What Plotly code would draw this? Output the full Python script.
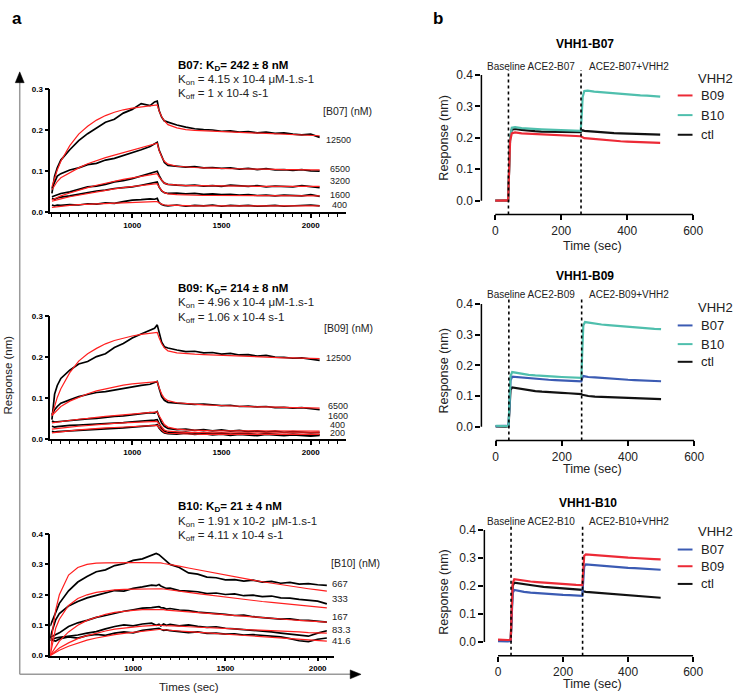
import plotly.graph_objects as go

W, H = 740, 699
FONT = "Liberation Sans, Arial, Helvetica, sans-serif"


def px(x):
    return x / W


def py(y):
    return 1 - y / H


# ---------------- Panel a data (BLI kinetics) ----------------
T_A = [550, 565, 580, 600, 650, 700, 750, 800, 850, 900, 950, 1000, 1050, 1100, 1125, 1140,
       1150, 1165, 1180, 1200, 1250, 1300, 1350, 1400, 1450, 1500, 1550, 1600, 1650, 1700,
       1750, 1800, 1850, 1900, 1950, 2000, 2050]

B07_CONC = ["12500", "6500", "3200", "1600", "400"]
b07_12500 = [0.046, 0.088, 0.108, 0.127, 0.152, 0.174, 0.191, 0.204, 0.219, 0.226, 0.241, 0.25, 0.264, 0.259, 0.268, 0.27,
             0.248, 0.231, 0.222, 0.219, 0.212, 0.207, 0.203, 0.201, 0.2, 0.197, 0.198, 0.195, 0.196, 0.193, 0.195, 0.192,
             0.193, 0.19, 0.188, 0.19, 0.182]
b07_12500_fit = [0.062, 0.084, 0.103, 0.124, 0.162, 0.19, 0.209, 0.224, 0.235, 0.243, 0.249, 0.253, 0.256, 0.259, 0.26, 0.261,
                 0.247, 0.232, 0.222, 0.213, 0.205, 0.201, 0.199, 0.198, 0.197, 0.196, 0.195, 0.194, 0.193, 0.192, 0.192,
                 0.191, 0.19, 0.189, 0.188, 0.187, 0.186]
b07_6500 = [0.058, 0.075, 0.088, 0.094, 0.103, 0.108, 0.116, 0.119, 0.127, 0.131, 0.138, 0.144, 0.152, 0.16, 0.166, 0.17,
            0.152, 0.136, 0.121, 0.114, 0.112, 0.11, 0.111, 0.108, 0.109, 0.107, 0.108, 0.105, 0.107, 0.104, 0.106, 0.103,
            0.104, 0.102, 0.104, 0.101, 0.1]
b07_6500_fit = [0.055, 0.066, 0.075, 0.084, 0.097, 0.108, 0.118, 0.126, 0.133, 0.139, 0.145, 0.151, 0.157, 0.163, 0.166, 0.168,
                0.151, 0.135, 0.124, 0.117, 0.112, 0.11, 0.109, 0.108, 0.107, 0.107, 0.106, 0.106, 0.105, 0.105, 0.105,
                0.104, 0.104, 0.104, 0.103, 0.103, 0.103]
b07_3200 = [0.038, 0.04, 0.043, 0.046, 0.05, 0.056, 0.062, 0.064, 0.068, 0.074, 0.077, 0.082, 0.088, 0.094, 0.097, 0.1,
            0.09, 0.078, 0.071, 0.068, 0.066, 0.065, 0.066, 0.064, 0.065, 0.063, 0.066, 0.064, 0.063, 0.065, 0.062, 0.064,
            0.063, 0.062, 0.065, 0.063, 0.06]
b07_3200_fit = [0.03, 0.033, 0.036, 0.04, 0.047, 0.054, 0.06, 0.066, 0.071, 0.076, 0.08, 0.084, 0.088, 0.091, 0.093, 0.094,
                0.086, 0.077, 0.071, 0.068, 0.066, 0.065, 0.065, 0.065, 0.064, 0.064, 0.064, 0.064, 0.064, 0.063, 0.063,
                0.063, 0.063, 0.063, 0.063, 0.063, 0.063]
b07_1600 = [0.034, 0.032, 0.035, 0.037, 0.04, 0.044, 0.048, 0.052, 0.054, 0.058, 0.06, 0.062, 0.066, 0.07, 0.072, 0.074,
            0.062, 0.052, 0.048, 0.046, 0.047, 0.045, 0.046, 0.044, 0.045, 0.043, 0.044, 0.042, 0.043, 0.041, 0.042, 0.04,
            0.042, 0.041, 0.04, 0.043, 0.039]
b07_1600_fit = [0.027, 0.029, 0.031, 0.033, 0.038, 0.042, 0.046, 0.05, 0.054, 0.057, 0.06, 0.063, 0.066, 0.068, 0.069, 0.07,
                0.062, 0.053, 0.048, 0.045, 0.043, 0.042, 0.042, 0.041, 0.041, 0.041, 0.041, 0.04, 0.04, 0.04, 0.04, 0.04,
                0.04, 0.04, 0.04, 0.04, 0.04]
b07_400 = [0.018, 0.016, 0.018, 0.017, 0.019, 0.018, 0.021, 0.02, 0.023, 0.022, 0.026, 0.03, 0.031, 0.033, 0.032, 0.034,
           0.024, 0.019, 0.017, 0.016, 0.018, 0.015, 0.017, 0.016, 0.018, 0.015, 0.017, 0.016, 0.017, 0.015, 0.016, 0.017,
           0.015, 0.016, 0.017, 0.018, 0.016]
b07_400_fit = [0.012, 0.013, 0.014, 0.015, 0.017, 0.019, 0.02, 0.021, 0.022, 0.023, 0.024, 0.025, 0.026, 0.026, 0.026, 0.026,
               0.023, 0.02, 0.018, 0.017, 0.017, 0.016, 0.016, 0.016, 0.016, 0.016, 0.016, 0.016, 0.016, 0.016, 0.016,
               0.016, 0.016, 0.016, 0.016, 0.016, 0.016]

B09_CONC = ["12500", "6500", "1600", "400", "200"]
b09_12500 = [0.048, 0.11, 0.131, 0.148, 0.168, 0.183, 0.189, 0.201, 0.208, 0.223, 0.233, 0.246, 0.256, 0.265, 0.27, 0.278,
             0.258, 0.236, 0.225, 0.222, 0.217, 0.213, 0.214, 0.21, 0.211, 0.207, 0.209, 0.205, 0.206, 0.202, 0.204, 0.2,
             0.199, 0.197, 0.198, 0.195, 0.192]
b09_12500_fit = [0.058, 0.082, 0.102, 0.123, 0.162, 0.19, 0.208, 0.221, 0.232, 0.24, 0.246, 0.251, 0.255, 0.258, 0.259, 0.26,
                 0.247, 0.232, 0.222, 0.215, 0.21, 0.208, 0.207, 0.206, 0.205, 0.204, 0.203, 0.202, 0.201, 0.2, 0.2,
                 0.199, 0.198, 0.198, 0.197, 0.197, 0.196]
b09_6500 = [0.06, 0.072, 0.08, 0.088, 0.096, 0.104, 0.109, 0.114, 0.116, 0.12, 0.124, 0.128, 0.131, 0.134, 0.138, 0.141,
            0.125, 0.104, 0.095, 0.09, 0.088, 0.087, 0.085, 0.086, 0.084, 0.082, 0.083, 0.08, 0.081, 0.079, 0.08, 0.077,
            0.078, 0.076, 0.077, 0.074, 0.072]
b09_6500_fit = [0.058, 0.065, 0.072, 0.08, 0.093, 0.103, 0.111, 0.118, 0.123, 0.128, 0.132, 0.135, 0.137, 0.139, 0.139, 0.14,
                0.126, 0.11, 0.1, 0.094, 0.089, 0.087, 0.085, 0.084, 0.083, 0.082, 0.081, 0.08, 0.08, 0.079, 0.079,
                0.078, 0.078, 0.077, 0.077, 0.077, 0.076]
b09_1600 = [0.045, 0.042, 0.043, 0.044, 0.046, 0.048, 0.05, 0.051, 0.054, 0.056, 0.057, 0.06, 0.062, 0.065, 0.064, 0.068,
            0.055, 0.04, 0.032, 0.027, 0.024, 0.025, 0.022, 0.024, 0.021, 0.023, 0.02, 0.022, 0.019, 0.021, 0.018, 0.02,
            0.017, 0.019, 0.018, 0.016, 0.017]
b09_1600_fit = [0.04, 0.041, 0.042, 0.043, 0.046, 0.049, 0.051, 0.054, 0.056, 0.058, 0.06, 0.062, 0.064, 0.066, 0.067, 0.067,
                0.058, 0.045, 0.036, 0.03, 0.025, 0.023, 0.022, 0.022, 0.021, 0.021, 0.021, 0.021, 0.021, 0.021, 0.02,
                0.02, 0.02, 0.02, 0.02, 0.02, 0.02]
b09_400 = [0.032, 0.03, 0.031, 0.032, 0.034, 0.035, 0.036, 0.038, 0.039, 0.04, 0.041, 0.043, 0.044, 0.046, 0.047, 0.048,
           0.038, 0.026, 0.02, 0.017, 0.016, 0.018, 0.015, 0.017, 0.014, 0.016, 0.013, 0.015, 0.014, 0.012, 0.014, 0.013,
           0.011, 0.013, 0.012, 0.01, 0.012]
b09_400_fit = [0.025, 0.026, 0.027, 0.028, 0.03, 0.032, 0.034, 0.036, 0.037, 0.039, 0.04, 0.041, 0.042, 0.043, 0.044, 0.044,
               0.038, 0.029, 0.023, 0.02, 0.018, 0.017, 0.017, 0.016, 0.016, 0.016, 0.016, 0.016, 0.016, 0.016, 0.016,
               0.016, 0.016, 0.016, 0.016, 0.016, 0.016]
b09_200 = [0.02, 0.018, 0.019, 0.02, 0.021, 0.022, 0.023, 0.025, 0.026, 0.027, 0.028, 0.03, 0.031, 0.033, 0.034, 0.036,
           0.028, 0.02, 0.016, 0.014, 0.013, 0.015, 0.012, 0.014, 0.011, 0.013, 0.01, 0.012, 0.011, 0.009, 0.012, 0.01,
           0.009, 0.011, 0.01, 0.008, 0.01]
b09_200_fit = [0.016, 0.017, 0.018, 0.019, 0.021, 0.023, 0.025, 0.026, 0.028, 0.029, 0.03, 0.031, 0.032, 0.033, 0.033, 0.034,
               0.029, 0.022, 0.017, 0.015, 0.014, 0.013, 0.013, 0.012, 0.012, 0.012, 0.012, 0.012, 0.012, 0.012, 0.012,
               0.012, 0.012, 0.012, 0.012, 0.012, 0.012]

B10_CONC = ["667", "333", "167", "83.3", "41.6"]
b10_667 = [0.097, 0.12, 0.14, 0.172, 0.213, 0.242, 0.26, 0.276, 0.282, 0.296, 0.302, 0.313, 0.318, 0.33, 0.336, 0.332,
           0.326, 0.317, 0.311, 0.3, 0.29, 0.272, 0.268, 0.258, 0.256, 0.249, 0.25, 0.245, 0.248, 0.242, 0.244, 0.238,
           0.241, 0.235, 0.237, 0.233, 0.231]
b10_667_fit = [0.0, 0.09, 0.15, 0.2, 0.265, 0.29, 0.3, 0.304, 0.305, 0.306, 0.306, 0.306, 0.306, 0.306, 0.306, 0.306,
               0.305, 0.303, 0.301, 0.299, 0.294, 0.288, 0.282, 0.276, 0.27, 0.264, 0.258, 0.253, 0.248, 0.243, 0.238,
               0.233, 0.229, 0.224, 0.22, 0.216, 0.212]
b10_333 = [0.06, 0.09, 0.118, 0.138, 0.163, 0.178, 0.19, 0.198, 0.207, 0.214, 0.212, 0.221, 0.226, 0.232, 0.23, 0.234,
           0.229, 0.226, 0.221, 0.222, 0.214, 0.212, 0.21, 0.204, 0.206, 0.201, 0.203, 0.197, 0.199, 0.194, 0.196, 0.19,
           0.189, 0.185, 0.183, 0.179, 0.17]
b10_333_fit = [0.0, 0.05, 0.09, 0.12, 0.165, 0.188, 0.2, 0.208, 0.213, 0.216, 0.218, 0.219, 0.22, 0.221, 0.221, 0.221,
               0.22, 0.219, 0.218, 0.216, 0.212, 0.208, 0.204, 0.2, 0.196, 0.192, 0.188, 0.185, 0.181, 0.178, 0.175,
               0.172, 0.169, 0.166, 0.163, 0.16, 0.157]
b10_167 = [0.06, 0.065, 0.07, 0.075, 0.096, 0.108, 0.116, 0.126, 0.132, 0.14, 0.146, 0.151, 0.156, 0.158, 0.16, 0.161,
           0.158, 0.157, 0.153, 0.155, 0.15, 0.148, 0.143, 0.141, 0.138, 0.136, 0.132, 0.133, 0.128, 0.126, 0.124, 0.12,
           0.121, 0.117, 0.116, 0.112, 0.11]
b10_167_fit = [0.0, 0.015, 0.03, 0.048, 0.078, 0.1, 0.116, 0.127, 0.136, 0.142, 0.146, 0.149, 0.151, 0.152, 0.152, 0.152,
               0.152, 0.151, 0.15, 0.149, 0.147, 0.144, 0.141, 0.138, 0.136, 0.133, 0.131, 0.128, 0.126, 0.124, 0.122,
               0.12, 0.118, 0.116, 0.114, 0.112, 0.11]
b10_83 = [0.05, 0.055, 0.058, 0.06, 0.063, 0.068, 0.074, 0.079, 0.088, 0.096, 0.101, 0.098, 0.104, 0.107, 0.1, 0.103,
          0.098, 0.104, 0.1, 0.103, 0.098, 0.101, 0.096, 0.093, 0.095, 0.09, 0.088, 0.086, 0.084, 0.08, 0.078, 0.074,
          0.071, 0.067, 0.064, 0.074, 0.082]
b10_83_fit = [0.0, 0.008, 0.016, 0.025, 0.042, 0.056, 0.066, 0.074, 0.081, 0.087, 0.091, 0.094, 0.097, 0.099, 0.1, 0.1,
              0.1, 0.099, 0.099, 0.098, 0.097, 0.095, 0.094, 0.092, 0.091, 0.089, 0.088, 0.086, 0.085, 0.083, 0.082,
              0.08, 0.079, 0.078, 0.076, 0.075, 0.074]
b10_41 = [0.06, 0.05, 0.048, 0.055, 0.062, 0.058, 0.066, 0.07, 0.067, 0.074, 0.078, 0.075, 0.083, 0.086, 0.088, 0.09,
          0.087, 0.083, 0.085, 0.082, 0.079, 0.076, 0.078, 0.073, 0.074, 0.071, 0.072, 0.068, 0.069, 0.066, 0.064, 0.062,
          0.056, 0.049, 0.046, 0.054, 0.058]
b10_41_fit = [0.0, 0.006, 0.012, 0.018, 0.031, 0.042, 0.051, 0.058, 0.064, 0.069, 0.073, 0.077, 0.08, 0.083, 0.085, 0.086,
              0.086, 0.085, 0.084, 0.083, 0.081, 0.079, 0.077, 0.075, 0.073, 0.071, 0.069, 0.067, 0.065, 0.063, 0.061,
              0.059, 0.057, 0.055, 0.053, 0.05, 0.048]

# ---------------- Panel b data (competition) ----------------
T_B = [0, 10, 20, 30, 39, 42, 45, 50, 60, 80, 100, 120, 140, 160, 180, 200, 220, 240, 259, 262, 265, 270, 280, 300,
       320, 340, 360, 380, 400, 420, 440, 460, 480, 500]

# VHH1-B07
p1_B09 = [0.0, 0.001, 0.0, 0.001, 0.0, 0.1, 0.19, 0.214, 0.217, 0.214, 0.213, 0.212, 0.211, 0.211, 0.209, 0.209, 0.208,
          0.207, 0.205, 0.203, 0.201, 0.199, 0.198, 0.196, 0.193, 0.192, 0.19, 0.189, 0.188, 0.187, 0.187, 0.185, 0.185, 0.184]
p1_B10 = [0.0, 0.0, 0.0, 0.0, 0.0, 0.1, 0.2, 0.232, 0.234, 0.231, 0.229, 0.228, 0.227, 0.226, 0.225, 0.225, 0.224, 0.223,
          0.222, 0.27, 0.33, 0.349, 0.35, 0.347, 0.345, 0.343, 0.341, 0.339, 0.338, 0.337, 0.335, 0.334, 0.333, 0.331]
p1_ctl = [0.0, 0.0, 0.0, 0.0, 0.0, 0.1, 0.2, 0.226, 0.228, 0.225, 0.222, 0.221, 0.22, 0.22, 0.219, 0.219, 0.218, 0.218,
          0.218, 0.222, 0.224, 0.222, 0.221, 0.219, 0.217, 0.216, 0.215, 0.214, 0.213, 0.212, 0.212, 0.211, 0.21, 0.21]
# VHH1-B09
p2_B07 = [0.002, 0.003, 0.002, 0.003, 0.002, 0.09, 0.15, 0.163, 0.162, 0.159, 0.157, 0.155, 0.154, 0.153, 0.152, 0.151,
          0.15, 0.149, 0.148, 0.16, 0.165, 0.164, 0.162, 0.161, 0.159, 0.157, 0.156, 0.154, 0.153, 0.152, 0.151, 0.15, 0.149, 0.148]
p2_B10 = [0.003, 0.002, 0.003, 0.002, 0.003, 0.1, 0.165, 0.178, 0.176, 0.172, 0.169, 0.167, 0.165, 0.164, 0.163, 0.162,
          0.161, 0.16, 0.159, 0.25, 0.33, 0.341, 0.339, 0.336, 0.333, 0.331, 0.329, 0.327, 0.325, 0.324, 0.322, 0.321, 0.319, 0.318]
p2_ctl = [0.001, 0.0, 0.001, 0.0, 0.001, 0.08, 0.12, 0.128, 0.126, 0.122, 0.118, 0.116, 0.114, 0.112, 0.111, 0.11, 0.109,
          0.108, 0.106, 0.104, 0.103, 0.102, 0.1, 0.098, 0.097, 0.096, 0.095, 0.094, 0.094, 0.093, 0.092, 0.091, 0.09, 0.09]
# VHH1-B10
p3_B07 = [0.003, 0.002, 0.003, 0.002, 0.003, 0.12, 0.175, 0.186, 0.183, 0.179, 0.176, 0.174, 0.172, 0.171, 0.169, 0.168,
          0.167, 0.166, 0.165, 0.22, 0.27, 0.277, 0.276, 0.273, 0.271, 0.269, 0.268, 0.266, 0.265, 0.264, 0.262, 0.261, 0.259, 0.258]
p3_B09 = [0.008, 0.007, 0.008, 0.007, 0.008, 0.14, 0.21, 0.224, 0.222, 0.219, 0.216, 0.214, 0.212, 0.21, 0.208, 0.207,
          0.206, 0.204, 0.203, 0.26, 0.308, 0.313, 0.312, 0.309, 0.307, 0.305, 0.304, 0.302, 0.301, 0.3, 0.298, 0.297, 0.296, 0.295]
p3_ctl = [0.005, 0.006, 0.005, 0.006, 0.005, 0.13, 0.2, 0.212, 0.21, 0.206, 0.203, 0.2, 0.197, 0.195, 0.193, 0.191, 0.189,
          0.187, 0.186, 0.181, 0.18, 0.179, 0.178, 0.176, 0.174, 0.172, 0.17, 0.168, 0.167, 0.165, 0.163, 0.162, 0.16, 0.158]

STEP_TIMES = [40, 260]

RED = "#ec2a36"
TEAL = "#4fbfad"
BLUE = "#3b5bb3"
BLACK = "#111111"

fig = go.Figure()

# ---------- panel a traces ----------
panel_a = [
    ("", [b07_12500, b07_6500, b07_3200, b07_1600, b07_400],
     [b07_12500_fit, b07_6500_fit, b07_3200_fit, b07_1600_fit, b07_400_fit]),
    ("2", [b09_12500, b09_6500, b09_1600, b09_400, b09_200],
     [b09_12500_fit, b09_6500_fit, b09_1600_fit, b09_400_fit, b09_200_fit]),
    ("3", [b10_667, b10_333, b10_167, b10_83, b10_41],
     [b10_667_fit, b10_333_fit, b10_167_fit, b10_83_fit, b10_41_fit]),
]
for suf, obs_list, fit_list in panel_a:
    for obs in obs_list:
        fig.add_trace(go.Scatter(x=T_A, y=obs, mode="lines", line=dict(color="black", width=1.7),
                                 xaxis="x" + suf, yaxis="y" + suf, showlegend=False, hoverinfo="skip"))
    for fit in fit_list:
        fig.add_trace(go.Scatter(x=T_A, y=fit, mode="lines", line=dict(color="#ff1f1f", width=1.2),
                                 xaxis="x" + suf, yaxis="y" + suf, showlegend=False, hoverinfo="skip"))

# ---------- panel b traces ----------
panel_b = [
    ("4", [("ctl", p1_ctl, BLACK), ("B10", p1_B10, TEAL), ("B09", p1_B09, RED)]),
    ("5", [("ctl", p2_ctl, BLACK), ("B07", p2_B07, BLUE), ("B10", p2_B10, TEAL)]),
    ("6", [("ctl", p3_ctl, BLACK), ("B07", p3_B07, BLUE), ("B09", p3_B09, RED)]),
]
for suf, series in panel_b:
    for name, vals, col in series:
        fig.add_trace(go.Scatter(x=T_B, y=vals, mode="lines", name=name, line=dict(color=col, width=2.2),
                                 xaxis="x" + suf, yaxis="y" + suf, showlegend=False, hoverinfo="skip"))

layout = dict(width=W, height=H, margin=dict(l=0, r=0, t=0, b=0), paper_bgcolor="white", plot_bgcolor="white",
              font=dict(family=FONT, color="black"), showlegend=False)

a_tickfont = dict(family=FONT, size=8, weight="bold", color="black")


def a_axes(suf, xdom, ydom, xr, yr):
    xa = dict(domain=xdom, range=xr, showline=True, linecolor="black", linewidth=1.5, ticks="outside", ticklen=4,
              tickwidth=1.5, tickcolor="black", tick0=0, dtick=500, showgrid=False, zeroline=False,
              minor=dict(dtick=50, ticks="outside", ticklen=2.5, tickwidth=1, tickcolor="black", showgrid=False),
              tickfont=a_tickfont, anchor="y" + suf)
    ya = dict(domain=ydom, range=yr, showline=True, linecolor="black", linewidth=1.5, ticks="outside", ticklen=4,
              tickwidth=1.5, tickcolor="black", dtick=0.1, tick0=0, tickformat=".1f", showgrid=False, zeroline=False,
              tickfont=a_tickfont, anchor="x" + suf)
    return xa, ya


for suf, xdom, ydom, xr, yr in [
    ("", [px(51), px(351)], [py(209), py(83)], [541, 2199], [0, 0.3005]),
    ("2", [px(51), px(351)], [py(440), py(314)], [541, 2199], [0, 0.3005]),
    ("3", [px(51), px(339)], [py(660), py(536)], [551, 2091], [0, 0.4005]),
]:
    xa, ya = a_axes(suf, xdom, ydom, xr, yr)
    layout["xaxis" + suf] = xa
    layout["yaxis" + suf] = ya

b_tickfont = dict(family=FONT, size=12, color="#222222")


def b_axes(suf, xdom, ydom, xr, yr):
    xa = dict(domain=xdom, range=xr, showline=False, ticks="outside", ticklen=5, tickwidth=1.5, tickcolor="black",
              tickvals=[0, 200, 400, 600], showgrid=False, zeroline=False, tickfont=b_tickfont, anchor="y" + suf)
    ya = dict(domain=ydom, range=yr, showline=False, ticks="outside", ticklen=5, tickwidth=1.5, tickcolor="black",
              tickvals=[0, 0.1, 0.2, 0.3, 0.4], tickformat=".1f", showgrid=False, zeroline=False,
              tickfont=b_tickfont, anchor="x" + suf)
    return xa, ya


b_specs = [
    ("4", [px(488), px(703)], [py(211), py(69)], [-42, 601], [-0.0437, 0.4005]),
    ("5", [px(488), px(704)], [py(441), py(302)], [-43, 601], [-0.0448, 0.4005]),
    ("6", [px(491), px(703)], [py(660), py(532)], [-42, 601], [-0.049, 0.4005]),
]
for suf, xdom, ydom, xr, yr in b_specs:
    xa, ya = b_axes(suf, xdom, ydom, xr, yr)
    layout["xaxis" + suf] = xa
    layout["yaxis" + suf] = ya

shapes = []
ann = []

# detached axis lines + dotted step lines for panel b
for suf, _, _, _, _ in b_specs:
    shapes.append(dict(type="line", xref="x%s domain" % suf, x0=0, x1=0, yref="y" + suf, y0=0, y1=0.4,
                       line=dict(color="black", width=1.5)))
    shapes.append(dict(type="line", xref="x" + suf, x0=0, x1=600, yref="y%s domain" % suf, y0=0, y1=0,
                       line=dict(color="black", width=1.5)))
    for t in STEP_TIMES:
        shapes.append(dict(type="line", xref="x" + suf, x0=t, x1=t, yref="y%s domain" % suf, y0=0, y1=1.035,
                           line=dict(color="black", width=1.6, dash="dot")))

# big arrows panel a
shapes.append(dict(type="line", xref="paper", yref="paper", x0=px(20), x1=px(20), y0=py(679), y1=py(76),
                   line=dict(color="#9a9a9a", width=1.5)))
shapes.append(dict(type="line", xref="paper", yref="paper", x0=px(20), x1=px(357), y0=py(679), y1=py(679),
                   line=dict(color="#9a9a9a", width=1.5)))
shapes.append(dict(type="path", xref="paper", yref="paper",
                   path="M %f %f L %f %f L %f %f Z" % (px(15.5), py(77), px(24.5), py(77), px(20), py(66)),
                   fillcolor="black", line=dict(color="black", width=0.5)))
shapes.append(dict(type="path", xref="paper", yref="paper",
                   path="M %f %f L %f %f L %f %f Z" % (px(355), py(674.5), px(355), py(683.5), px(366), py(679)),
                   fillcolor="black", line=dict(color="black", width=0.5)))


def text(x, y, s, size=11, color="black", xanchor="left", bold=False, angle=0):
    ann.append(dict(xref="paper", yref="paper", x=px(x), y=py(y), text=s, showarrow=False, xanchor=xanchor,
                    yanchor="middle", textangle=angle,
                    font=dict(family=FONT, size=size, color=color, weight="bold" if bold else "normal")))


# panel labels
text(10, 12, "a", size=17, bold=True)
text(437, 12, "b", size=17, bold=True)

# panel a texts
text(8, 374, "Response (nm)", size=11.5, xanchor="center", angle=-90, color="#222")
text(192, 692, "Times (sec)", size=11.5, xanchor="center", color="#222")

kin_texts = [
    (60, "B07: K<sub>D</sub>= 242 ± 8 nM", "K<sub>on</sub> = 4.15 x 10-4 μM-1.s-1", "K<sub>off</sub> = 1 x 10-4 s-1"),
    (287, "B09: K<sub>D</sub>= 214 ± 8 nM", "K<sub>on</sub> = 4.96 x 10-4 μM-1.s-1", "K<sub>off</sub> = 1.06 x 10-4 s-1"),
    (509, "B10: K<sub>D</sub>= 21 ± 4 nM", "K<sub>on</sub> = 1.91 x 10-2  μM-1.s-1", "K<sub>off</sub> = 4.11 x 10-4 s-1"),
]
for y0, l1, l2, l3 in kin_texts:
    text(178, y0, l1, size=11.5, bold=True)
    text(178, y0 + 14.5, l2, size=11.5, color="#222")
    text(178, y0 + 29, l3, size=11.5, color="#222")

text(325, 106, "[B07] (nM)", size=10.5, color="#222")
text(326, 327, "[B09] (nM)", size=10.5, color="#222")
text(333, 566, "[B10] (nM)", size=10.5, color="#222")

for lab, x, y in zip(B07_CONC, [328, 332, 332, 332, 335], [135, 165, 177, 191, 201]):
    text(x, y, lab, size=9, color="#222")
for lab, x, y in zip(B09_CONC, [328, 330, 330, 332, 332], [357, 406, 416.5, 425, 433]):
    text(x, y, lab, size=9, color="#222")
for lab, x, y in zip(B10_CONC, [335, 335, 335, 335, 335], [587, 602, 620, 633, 645]):
    text(x, y, lab, size=9.5, color="#222")

# panel b texts
b_texts = [
    ("VHH1-B07", "B07", 593, 38, 61, 133, 243),
    ("VHH1-B09", "B09", 593, 274, 293, 370, 470),
    ("VHH1-B10", "B10", 596, 505, 523, 595, 689),
]
for title, lig, tx, ty, sy, ry, xy in b_texts:
    text(tx, ty, title, size=12, bold=True, xanchor="center")
    text(538, sy, "Baseline ACE2-%s" % lig, size=10, xanchor="center", color="#222")
    text(638, sy, "ACE2-%s+VHH2" % lig, size=10, xanchor="center", color="#222")
    text(450, ry, "Response (nm)", size=12.5, xanchor="center", angle=-90, color="#222")
    text(601, xy, "Time (sec)", size=12.5, xanchor="center", color="#222")

# manual legends (panel b)
legend_specs = [
    (73, [("B09", RED, 90), ("B10", TEAL, 110), ("ctl", BLACK, 130)]),
    (306, [("B07", BLUE, 324), ("B10", TEAL, 343), ("ctl", BLACK, 361)]),
    (534, [("B07", BLUE, 552), ("B09", RED, 569), ("ctl", BLACK, 587)]),
]
for ty, items in legend_specs:
    text(706, ty, "VHH2", size=13, color="#222")
    for name, col, yy in items:
        shapes.append(dict(type="line", xref="paper", yref="paper", x0=px(687), x1=px(702), y0=py(yy), y1=py(yy),
                           line=dict(color=col, width=2)))
        text(709, yy, name, size=13, color="#222")

layout["shapes"] = shapes
layout["annotations"] = ann
fig.update_layout(**layout)

fig.write_html("out.html")
